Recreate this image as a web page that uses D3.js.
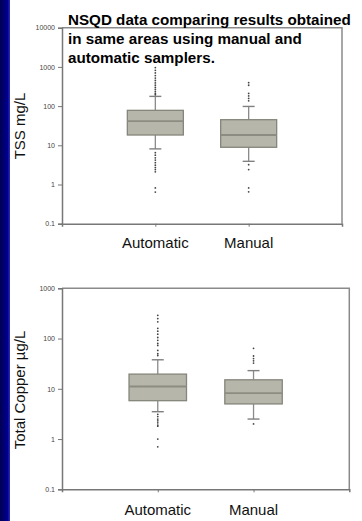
<!DOCTYPE html>
<html>
<head>
<meta charset="utf-8">
<script src="https://cdn.jsdelivr.net/npm/d3@7"></script>
<style>
  html, body { margin: 0; padding: 0; background: #ffffff; }
  svg { display: block; }
  text { font-family: "Liberation Sans", Arial, sans-serif; }
</style>
</head>
<body>
<script>
// Sampler groups shown on both panels
const groups = ["Automatic", "Manual"];

// TSS (mg/L) box statistics per group
const tssQ1 = [18.3, 8.9];
const tssMedian = [41.5, 18.3];
const tssQ3 = [78, 45];
const tssWhiskerLow = [8.1, 3.9];
const tssWhiskerHigh = [177, 98];
const tssOutliersAutomatic = [960, 820, 700, 600, 520, 450, 390, 340, 300, 265, 235, 210, 195,
                              6.5, 5.6, 4.8, 4.2, 3.6, 3.1, 2.7, 2.4, 2.1, 0.82, 0.64];
const tssOutliersManual = [395, 340, 210, 182, 157, 136, 3.2, 2.4, 0.82, 0.65];
const tssTicks = [0.1, 1, 10, 100, 1000, 10000];
const tssTickLabels = ["0.1", "1", "10", "100", "1000", "10000"];

// Total copper (µg/L) box statistics per group
const cuQ1 = [5.8, 5.0];
const cuMedian = [11.1, 8.2];
const cuQ3 = [19.6, 15.1];
const cuWhiskerLow = [3.5, 2.5];
const cuWhiskerHigh = [37.8, 23];
const cuOutliersAutomatic = [290, 250, 215, 160, 140, 122, 105, 92, 80, 73, 58, 50, 46,
                             3.1, 2.8, 2.5, 2.3, 2.1, 1.9, 1.8, 1.0, 0.7];
const cuOutliersManual = [64, 45, 40, 36, 32.5, 2.0];
const cuTicks = [0.1, 1, 10, 100, 1000];
const cuTickLabels = ["0.1", "1", "10", "100", "1000"];

const titleLines = ["NSQD data comparing results obtained",
                    "in same areas using manual and",
                    "automatic samplers."];

const W = 362, H = 521;
const svg = d3.select("body").append("svg").attr("width", W).attr("height", H);

// dark slide stripe on the left edge
const defs = svg.append("defs");
const grad = defs.append("linearGradient").attr("id", "stripe").attr("x1", "0").attr("x2", "1");
grad.append("stop").attr("offset", "0").attr("stop-color", "#000050");
grad.append("stop").attr("offset", "0.75").attr("stop-color", "#000090");
grad.append("stop").attr("offset", "1").attr("stop-color", "#3030b0");
svg.append("rect").attr("x", 0).attr("y", 0).attr("width", 10).attr("height", H).attr("fill", "url(#stripe)");

function panel(opts) {
  const { left, right, top, bottom, ticks, tickLabels, q1, med, q3, lo, hi, outliers, yTitle, yTitleY, labelY } = opts;
  const g = svg.append("g");
  const y = d3.scaleLog().domain([ticks[0], ticks[ticks.length - 1]]).range([bottom, top]);
  const x = d3.scalePoint().domain(groups).range([left, right]).padding(1);
  const boxW = (right - left) * 0.2;
  const capW = 12;

  // frame (top and right)
  g.append("path")
    .attr("d", `M${left},${top}H${right}V${bottom}`)
    .attr("fill", "none").attr("stroke", "#8a8a8a").attr("stroke-width", 1.5);

  // left axis
  const ya = g.append("g").attr("transform", `translate(${left},0)`)
    .call(d3.axisLeft(y).tickValues(ticks).tickSize(4).tickPadding(3)
      .tickFormat((d, i) => tickLabels[i]));
  ya.select(".domain").attr("stroke", "#777").attr("stroke-width", 1.5);
  ya.selectAll(".tick line").attr("stroke", "#777");
  ya.selectAll(".tick text").attr("font-size", 7).attr("fill", "#444")
    .attr("font-family", "'Liberation Sans', Arial, sans-serif");

  // bottom axis with small ticks at each group
  const xa = g.append("g").attr("transform", `translate(0,${bottom})`)
    .call(d3.axisBottom(x).tickSize(3).tickFormat(""));
  xa.select(".domain").attr("stroke", "#777").attr("stroke-width", 1.5);
  xa.selectAll(".tick line").attr("stroke", "#777");

  // category labels
  g.selectAll(".cat").data(groups).join("text")
    .attr("x", d => x(d)).attr("y", labelY)
    .attr("text-anchor", "middle").attr("font-size", 15).attr("fill", "#111")
    .text(d => d);

  // y title
  g.append("text")
    .attr("transform", `translate(25,${yTitleY}) rotate(-90)`)
    .attr("text-anchor", "middle").attr("font-size", 15).attr("fill", "#111")
    .text(yTitle);

  groups.forEach((grp, i) => {
    const cx = x(grp);
    // whiskers
    g.append("line").attr("x1", cx).attr("x2", cx).attr("y1", y(q3[i])).attr("y2", y(hi[i]))
      .attr("stroke", "#8a8a8a").attr("stroke-width", 1.3);
    g.append("line").attr("x1", cx).attr("x2", cx).attr("y1", y(q1[i])).attr("y2", y(lo[i]))
      .attr("stroke", "#8a8a8a").attr("stroke-width", 1.3);
    [hi[i], lo[i]].forEach(v => {
      g.append("line").attr("x1", cx - capW / 2).attr("x2", cx + capW / 2)
        .attr("y1", y(v)).attr("y2", y(v))
        .attr("stroke", "#808080").attr("stroke-width", 1.4);
    });
    // box
    g.append("rect")
      .attr("x", cx - boxW / 2).attr("width", boxW)
      .attr("y", y(q3[i])).attr("height", y(q1[i]) - y(q3[i]))
      .attr("fill", "#b6b6aa").attr("stroke", "#85857c").attr("stroke-width", 1.3);
    // median
    g.append("line").attr("x1", cx - boxW / 2).attr("x2", cx + boxW / 2)
      .attr("y1", y(med[i])).attr("y2", y(med[i]))
      .attr("stroke", "#8c8c82").attr("stroke-width", 1.8);
    // outliers
    g.selectAll(null).data(outliers[i]).join("circle")
      .attr("cx", cx).attr("cy", d => y(d)).attr("r", 0.9)
      .attr("fill", "#444");
  });
}

panel({
  left: 62, right: 342, top: 27.7, bottom: 223.7,
  ticks: tssTicks, tickLabels: tssTickLabels,
  q1: tssQ1, med: tssMedian, q3: tssQ3, lo: tssWhiskerLow, hi: tssWhiskerHigh,
  outliers: [tssOutliersAutomatic, tssOutliersManual],
  yTitle: "TSS mg/L", yTitleY: 126, labelY: 248
});

panel({
  left: 62, right: 349.3, top: 288.3, bottom: 489.3,
  ticks: cuTicks, tickLabels: cuTickLabels,
  q1: cuQ1, med: cuMedian, q3: cuQ3, lo: cuWhiskerLow, hi: cuWhiskerHigh,
  outliers: [cuOutliersAutomatic, cuOutliersManual],
  yTitle: "Total Copper µg/L", yTitleY: 390, labelY: 515
});

// heading drawn over the upper panel
const title = svg.append("text").attr("x", 68).attr("y", 25)
  .attr("font-size", 15.2).attr("font-weight", "bold").attr("fill", "#000");
titleLines.forEach((line, i) => {
  title.append("tspan").attr("x", 68).attr("dy", i === 0 ? 0 : 19.2).text(line);
});
</script>
</body>
</html>
